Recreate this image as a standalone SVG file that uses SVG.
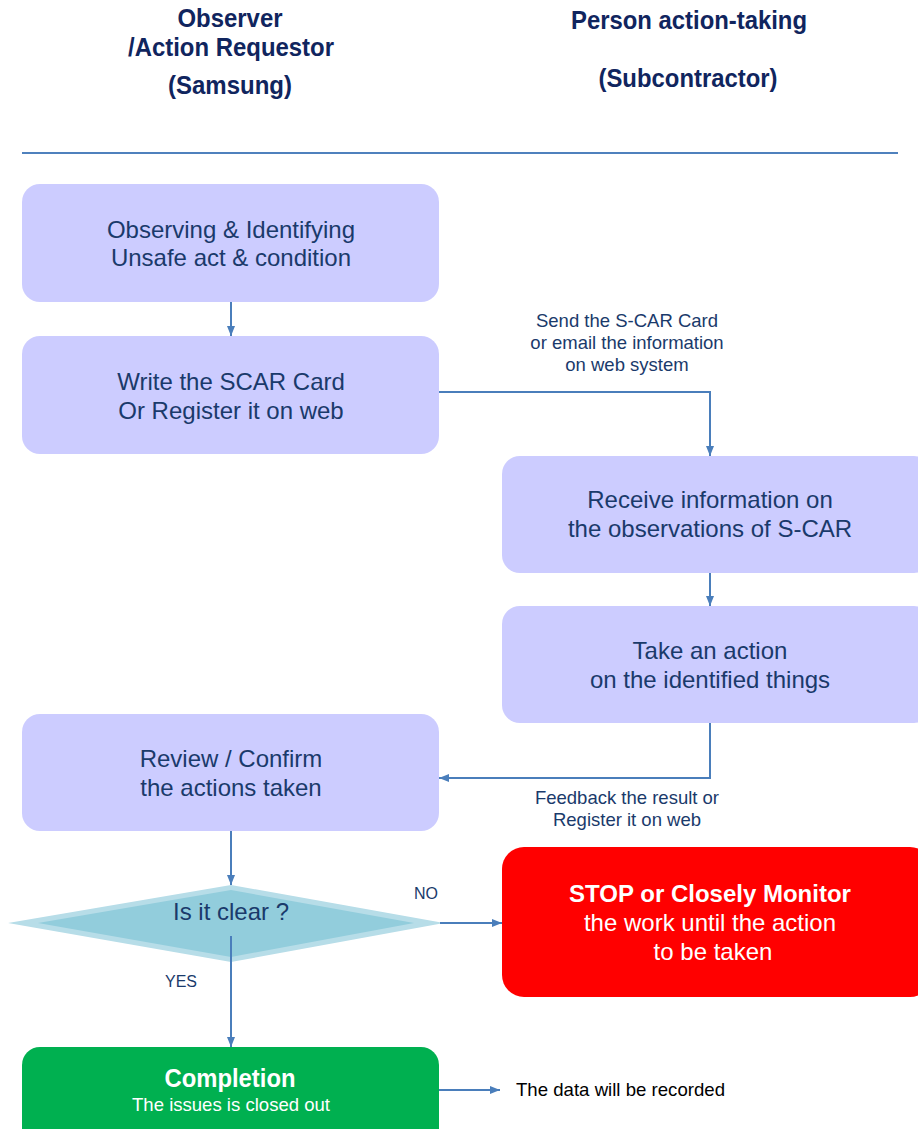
<svg xmlns="http://www.w3.org/2000/svg" width="918" height="1129" viewBox="0 0 918 1129">
  <defs>
    <marker id="arrow" viewBox="0 0 10 10" refX="10" refY="5" markerWidth="10" markerHeight="10" markerUnits="userSpaceOnUse" orient="auto">
      <path d="M0,1 L10,5 L0,9 Z" fill="#4a7ebb"/>
    </marker>
    <style>
      .head { font-family: "Liberation Sans", Arial, sans-serif; font-weight: bold; font-size: 26px; fill: #10255e; text-anchor: middle; }
      .box { fill: #ccccff; }
      .btxt { font-family: "Liberation Sans", Arial, sans-serif; font-size: 24px; fill: #1a3a6b; text-anchor: middle; }
      .lbl { font-family: "Liberation Sans", Arial, sans-serif; font-size: 18.5px; fill: #1a3a6b; text-anchor: middle; }
      .small { font-family: "Liberation Sans", Arial, sans-serif; font-size: 16px; fill: #1a3a6b; text-anchor: middle; }
      .wt { font-family: "Liberation Sans", Arial, sans-serif; fill: #ffffff; text-anchor: middle; }
      .conn { fill: none; stroke: #4a7ebb; stroke-width: 2; }
    </style>
  </defs>
  <rect width="918" height="1129" fill="#ffffff"/>

  <!-- column headers -->
  <g id="header">
    <text class="head" x="230" y="27" textLength="105" lengthAdjust="spacingAndGlyphs">Observer</text>
    <text class="head" x="231" y="56" textLength="206" lengthAdjust="spacingAndGlyphs">/Action Requestor</text>
    <text class="head" x="230" y="94" textLength="124" lengthAdjust="spacingAndGlyphs">(Samsung)</text>
    <text class="head" x="689" y="29" textLength="236" lengthAdjust="spacingAndGlyphs">Person action-taking</text>
    <text class="head" x="688" y="87" textLength="179" lengthAdjust="spacingAndGlyphs">(Subcontractor)</text>
    <line x1="22" y1="153" x2="898" y2="153" stroke="#4f81bd" stroke-width="2"/>
  </g>

  <g id="observe">
    <rect class="box" x="22" y="184" width="417" height="118" rx="18"/>
    <text class="btxt" x="231" y="238">Observing &amp; Identifying</text>
    <text class="btxt" x="231" y="266">Unsafe act &amp; condition</text>
  </g>

  <g id="write">
    <rect class="box" x="22" y="336" width="417" height="118" rx="18"/>
    <text class="btxt" x="231" y="390">Write the SCAR Card</text>
    <text class="btxt" x="231" y="419">Or Register it on web</text>
  </g>

  <g id="receive">
    <rect class="box" x="502" y="456" width="430" height="117" rx="18"/>
    <text class="btxt" x="710" y="508">Receive information on</text>
    <text class="btxt" x="710" y="537">the observations of S-CAR</text>
  </g>

  <g id="action">
    <rect class="box" x="502" y="606" width="430" height="117" rx="18"/>
    <text class="btxt" x="710" y="659">Take an action</text>
    <text class="btxt" x="710" y="688">on the identified things</text>
  </g>

  <g id="review">
    <rect class="box" x="22" y="714" width="417" height="117" rx="18"/>
    <text class="btxt" x="231" y="767">Review / Confirm</text>
    <text class="btxt" x="231" y="796">the actions taken</text>
  </g>

  <g id="decision">
    <polygon points="8,923 231,885 444,923 231,962" fill="#b7dde8"/>
    <polygon points="38,923 231,890 414,923 231,957" fill="#92cddc"/>
    <text class="btxt" x="231" y="920">Is it clear ?</text>
  </g>

  <g id="stop">
    <rect x="502" y="847" width="430" height="150" rx="22" fill="#ff0000"/>
    <text class="wt" x="710" y="902" font-size="24" font-weight="bold">STOP or Closely Monitor</text>
    <text class="wt" x="710" y="931" font-size="24">the work until the action</text>
    <text class="wt" x="713" y="960" font-size="24">to be taken</text>
  </g>

  <g id="completion">
    <rect x="22" y="1047" width="417" height="110" rx="18" fill="#00b050"/>
    <text class="wt" x="230" y="1087" font-size="25" font-weight="bold" textLength="131" lengthAdjust="spacingAndGlyphs">Completion</text>
    <text class="wt" x="231" y="1111" font-size="19" textLength="198" lengthAdjust="spacingAndGlyphs">The issues is closed out</text>
  </g>

  <g id="recorded">
    <text x="516" y="1096" font-family="Liberation Sans, Arial, sans-serif" font-size="19" fill="#000000" textLength="209" lengthAdjust="spacingAndGlyphs">The data will be recorded</text>
  </g>

  <!-- connectors -->
  <g id="connectors">
    <path class="conn" d="M231,302 V336" marker-end="url(#arrow)"/>
    <path class="conn" d="M439,392 H710 V456" marker-end="url(#arrow)"/>
    <path class="conn" d="M710,573 V606" marker-end="url(#arrow)"/>
    <path class="conn" d="M710,723 V778 H439" marker-end="url(#arrow)"/>
    <path class="conn" d="M231,831 V885" marker-end="url(#arrow)"/>
    <path class="conn" d="M440,923 H502" marker-end="url(#arrow)"/>
    <path class="conn" d="M231,936 V1047" marker-end="url(#arrow)"/>
    <path class="conn" d="M439,1090 H500" marker-end="url(#arrow)"/>
    <text class="lbl" x="627" y="327">Send the S-CAR Card</text>
    <text class="lbl" x="627" y="349">or email the information</text>
    <text class="lbl" x="627" y="371">on web system</text>
    <text class="lbl" x="627" y="804">Feedback the result or</text>
    <text class="lbl" x="627" y="826">Register it on web</text>
    <text class="small" x="426" y="899">NO</text>
    <text class="small" x="181" y="987">YES</text>
  </g>
</svg>
